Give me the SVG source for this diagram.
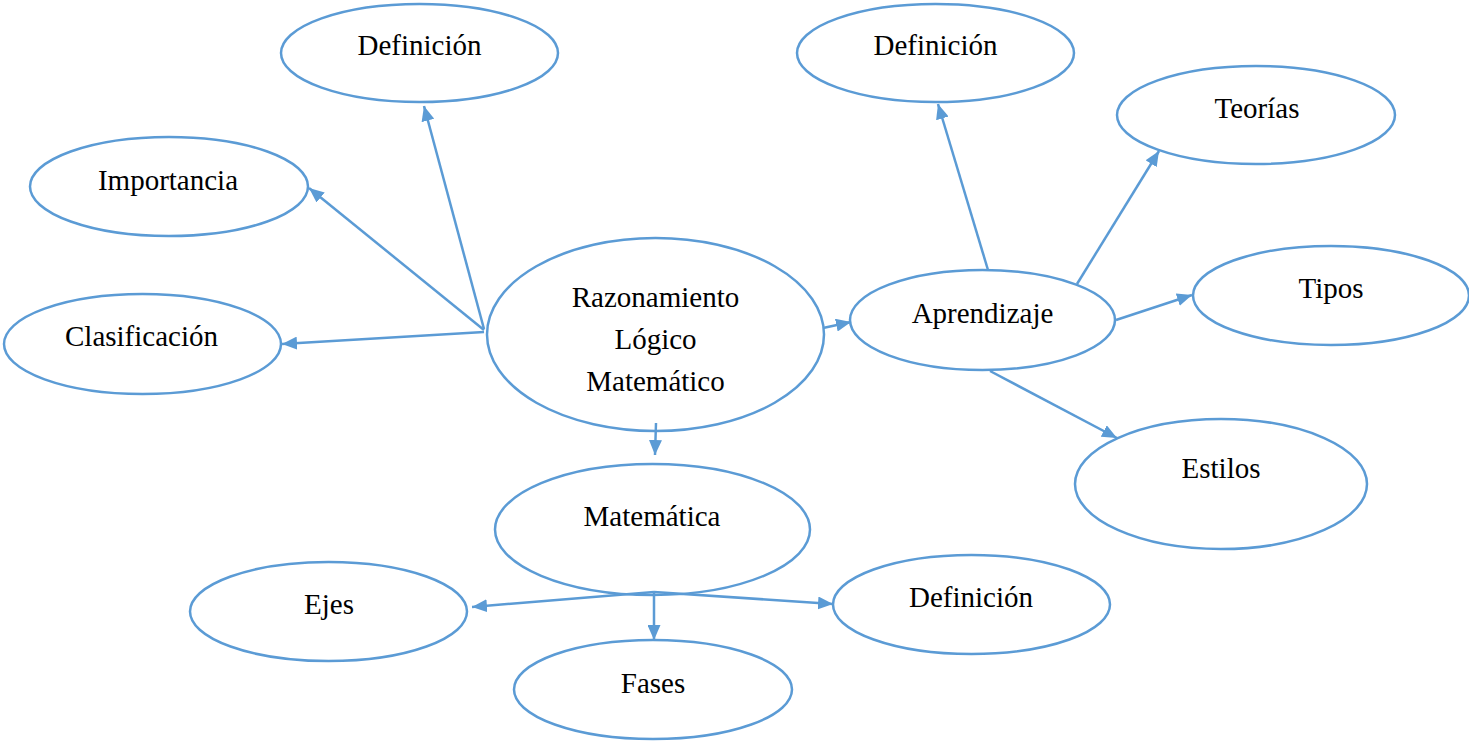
<svg xmlns="http://www.w3.org/2000/svg" width="1469" height="742" viewBox="0 0 1469 742">
  <style>
    .node ellipse { fill: #ffffff; stroke: #5b9bd5; stroke-width: 2.5; }
    .node text { font-family: "Liberation Serif", "Times New Roman", serif; font-size: 29px; fill: #000000; text-anchor: middle; }
    .edge { stroke: #5b9bd5; stroke-width: 2.5; fill: none; marker-end: url(#arrow); }
  </style>
  <defs>
    <marker id="arrow" markerUnits="userSpaceOnUse" markerWidth="15" markerHeight="13" refX="15" refY="6.5" orient="auto">
      <path d="M0,0 L15,6.5 L0,13 z" fill="#5b9bd5"/>
    </marker>
  </defs>
  <rect width="1469" height="742" fill="#ffffff"/>

  <g id="nodes">
    <g id="n-definicion-1" class="node">
      <ellipse cx="419.5" cy="53" rx="138.5" ry="49"/>
      <text x="419.5" y="55">Definición</text>
    </g>
    <g id="n-importancia" class="node">
      <ellipse cx="169" cy="186.5" rx="139" ry="49.5"/>
      <text x="168" y="190">Importancia</text>
    </g>
    <g id="n-clasificacion" class="node">
      <ellipse cx="142.5" cy="344" rx="138.5" ry="50"/>
      <text x="141.5" y="346">Clasificación</text>
    </g>
    <g id="n-razonamiento" class="node">
      <ellipse cx="655.5" cy="334.5" rx="168.5" ry="96.5"/>
      <text x="655.5" y="307">Razonamiento</text>
      <text x="655.5" y="349">Lógico</text>
      <text x="655.5" y="391">Matemático</text>
    </g>
    <g id="n-definicion-2" class="node">
      <ellipse cx="935.5" cy="53" rx="138.5" ry="49"/>
      <text x="935.5" y="55">Definición</text>
    </g>
    <g id="n-teorias" class="node">
      <ellipse cx="1256" cy="115" rx="139" ry="49"/>
      <text x="1257" y="118">Teorías</text>
    </g>
    <g id="n-aprendizaje" class="node">
      <ellipse cx="982.5" cy="320" rx="132.5" ry="50"/>
      <text x="982.5" y="323">Aprendizaje</text>
    </g>
    <g id="n-tipos" class="node">
      <ellipse cx="1331" cy="295.5" rx="138" ry="49.5"/>
      <text x="1331" y="298">Tipos</text>
    </g>
    <g id="n-estilos" class="node">
      <ellipse cx="1221" cy="484" rx="146" ry="65"/>
      <text x="1221" y="478">Estilos</text>
    </g>
    <g id="n-matematica" class="node">
      <ellipse cx="652.5" cy="529.5" rx="157.5" ry="65.5"/>
      <text x="652" y="526">Matemática</text>
    </g>
    <g id="n-ejes" class="node">
      <ellipse cx="328.5" cy="611.5" rx="138.5" ry="49.5"/>
      <text x="329" y="614">Ejes</text>
    </g>
    <g id="n-definicion-3" class="node">
      <ellipse cx="971.5" cy="604.5" rx="138.5" ry="49.5"/>
      <text x="971" y="607">Definición</text>
    </g>
    <g id="n-fases" class="node">
      <ellipse cx="653" cy="689.5" rx="139" ry="49.5"/>
      <text x="653" y="693">Fases</text>
    </g>
  </g>

  <g id="connectors">
    <line class="edge" x1="484" y1="329" x2="424" y2="106"/>
    <line class="edge" x1="484" y1="330" x2="309" y2="188"/>
    <line class="edge" x1="484" y1="332" x2="282" y2="344"/>
    <line class="edge" x1="823" y1="328" x2="851" y2="322"/>
    <line class="edge" x1="988" y1="270" x2="938" y2="104"/>
    <line class="edge" x1="1077" y1="284" x2="1159" y2="151"/>
    <line class="edge" x1="1116" y1="320" x2="1192" y2="295"/>
    <line class="edge" x1="990" y1="371" x2="1117" y2="438"/>
    <line class="edge" x1="656" y1="423" x2="655" y2="455"/>
    <line class="edge" x1="654" y1="592" x2="472" y2="607"/>
    <line class="edge" x1="654" y1="592" x2="833" y2="604"/>
    <line class="edge" x1="654" y1="592" x2="654" y2="640"/>
  </g>
</svg>
